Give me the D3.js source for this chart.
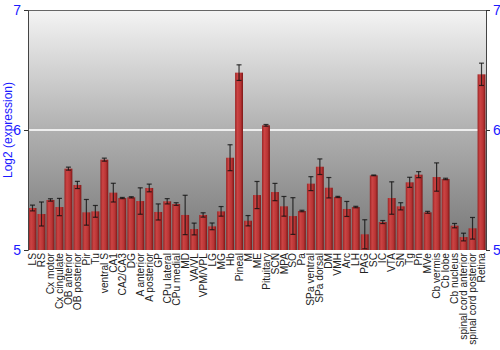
<!DOCTYPE html>
<html>
<head>
<meta charset="utf-8">
<script src="https://cdn.jsdelivr.net/npm/d3@7"></script>
<style>
  body { margin: 0; background: #fff; }
  text { font-family: "Liberation Sans", Arial, sans-serif; }
</style>
</head>
<body>
<div id="chart"></div>
<script>
// tissue names along the x axis
const regions = ["LS", "RS", "Cx motor", "Cx cingulate", "OB anterior", "OB posterior", "Pir", "Tu",
  "ventral S", "CA1", "CA2/CA3", "DG", "A anterior", "A posterior", "GP", "CPu lateral", "CPu medial",
  "MD", "VA/VL", "VPM/VPL", "LG", "MG", "Hb", "Pineal", "M", "ME", "Pituitary", "SCN", "MPA", "SO",
  "Pa", "SPa ventral", "SPa dorsal", "DM", "VMH", "Arc", "LH", "PAG", "SC", "IC", "VTA", "SN", "Tg",
  "Pn", "MVe", "Cb vermis", "Cb lobe", "Cb nucleus", "spinal cord anterior", "spinal cord posterior", "Retina"];

// log2 expression per region
const expression = [5.35, 5.30, 5.417, 5.358, 5.678, 5.542, 5.314, 5.322,
  5.753, 5.478, 5.433, 5.439, 5.408, 5.517, 5.317, 5.406, 5.383,
  5.292, 5.175, 5.292, 5.197, 5.322, 5.769, 6.478, 5.244, 5.458, 6.039, 5.483, 5.364, 5.283,
  5.325, 5.553, 5.694, 5.519, 5.442, 5.342, 5.358, 5.131, 5.622, 5.233, 5.433, 5.364, 5.564,
  5.628, 5.314, 5.608, 5.592, 5.203, 5.108, 5.181, 6.464];

// half-width of error bars
const errors = [0.024, 0.1, 0.01, 0.072, 0.0125, 0.03, 0.107, 0.049,
  0.0125, 0.078, 0.005, 0.005, 0.11, 0.032, 0.067, 0.022, 0.011,
  0.164, 0.049, 0.018, 0.028, 0.04, 0.108, 0.065, 0.043, 0.113, 0.007, 0.072, 0.082, 0.153,
  0.006, 0.058, 0.065, 0.085, 0.005, 0.0625, 0.006, 0.121, 0.003, 0.0125, 0.135, 0.03, 0.042,
  0.025, 0.008, 0.118, 0.006, 0.018, 0.032, 0.09, 0.093];

const yTicks = [5, 6, 7];

const data = regions.map((r, i) => ({ name: r, value: expression[i], err: errors[i] }));

const W = 500, H = 350;
const margin = { top: 10, right: 14, bottom: 100, left: 28 };
const width = W - margin.left - margin.right;
const height = H - margin.top - margin.bottom;

const svg = d3.select("#chart").append("svg")
  .attr("width", W)
  .attr("height", H);

const defs = svg.append("defs");

// background gradient, light at top, dark at bottom
const bg = defs.append("linearGradient")
  .attr("id", "bg").attr("x1", 0).attr("y1", 0).attr("x2", 0).attr("y2", 1);
bg.append("stop").attr("offset", "0%").attr("stop-color", "#f4f4f4");
bg.append("stop").attr("offset", "50%").attr("stop-color", "#b0b0b0");
bg.append("stop").attr("offset", "100%").attr("stop-color", "#767676");

// bar shading left-to-right
const barGrad = defs.append("linearGradient")
  .attr("id", "bar").attr("x1", 0).attr("y1", 0).attr("x2", 1).attr("y2", 0);
barGrad.append("stop").attr("offset", "0%").attr("stop-color", "#9a2424");
barGrad.append("stop").attr("offset", "30%").attr("stop-color", "#cc4444");
barGrad.append("stop").attr("offset", "70%").attr("stop-color", "#b83434");
barGrad.append("stop").attr("offset", "100%").attr("stop-color", "#7e1616");

const g = svg.append("g")
  .attr("transform", `translate(${margin.left},${margin.top})`);

const x = d3.scaleBand()
  .domain(regions)
  .range([0, width])
  .paddingInner(0.12)
  .paddingOuter(0.06);

const y = d3.scaleLinear()
  .domain([5, 7])
  .range([height, 0]);

g.append("rect")
  .attr("width", width)
  .attr("height", height)
  .attr("fill", "url(#bg)");

// gridline at 6
g.append("line")
  .attr("x1", 0).attr("x2", width)
  .attr("y1", y(6)).attr("y2", y(6))
  .attr("stroke", "#eeeeee")
  .attr("stroke-width", 2);

// top border
g.append("line")
  .attr("x1", 0).attr("x2", width)
  .attr("y1", 0.5).attr("y2", 0.5)
  .attr("stroke", "#666");

g.selectAll(".bar")
  .data(data)
  .enter()
  .append("rect")
  .attr("class", "bar")
  .attr("x", d => x(d.name))
  .attr("y", d => y(d.value))
  .attr("width", x.bandwidth())
  .attr("height", d => height - y(d.value))
  .attr("fill", "url(#bar)");

// error bars
const eb = g.selectAll(".err")
  .data(data)
  .enter()
  .append("g")
  .attr("class", "err")
  .attr("stroke", "#111")
  .attr("stroke-opacity", 0.8)
  .attr("stroke-width", 1.2);

eb.append("line")
  .attr("x1", d => x(d.name) + x.bandwidth() / 2)
  .attr("x2", d => x(d.name) + x.bandwidth() / 2)
  .attr("y1", d => y(d.value + d.err))
  .attr("y2", d => y(d.value - d.err));

eb.append("line")
  .attr("x1", d => x(d.name) + x.bandwidth() / 2 - 2.5)
  .attr("x2", d => x(d.name) + x.bandwidth() / 2 + 2.5)
  .attr("y1", d => y(d.value + d.err))
  .attr("y2", d => y(d.value + d.err));

eb.append("line")
  .attr("x1", d => x(d.name) + x.bandwidth() / 2 - 2.5)
  .attr("x2", d => x(d.name) + x.bandwidth() / 2 + 2.5)
  .attr("y1", d => y(d.value - d.err))
  .attr("y2", d => y(d.value - d.err));

// axes
const yLeft = g.append("g")
  .call(d3.axisLeft(y).tickValues(yTicks).tickFormat(d3.format("d")).tickSize(4));
const yRight = g.append("g")
  .attr("transform", `translate(${width},0)`)
  .call(d3.axisRight(y).tickValues(yTicks).tickFormat(d3.format("d")).tickSize(4));

[yLeft, yRight].forEach(a => {
  a.select(".domain").attr("stroke", "#444");
  a.selectAll(".tick line").attr("stroke", "#333");
  a.selectAll(".tick text")
    .attr("fill", "#1a1aff")
    .style("font-size", "14px");
});

const xAxis = g.append("g")
  .attr("transform", `translate(0,${height})`)
  .call(d3.axisBottom(x).tickSize(0));
xAxis.select(".domain").remove();
xAxis.selectAll(".tick text")
  .attr("transform", "rotate(-90)")
  .attr("text-anchor", "end")
  .attr("x", -3)
  .attr("y", 0)
  .attr("dy", "0.35em")
  .attr("fill", "#222")
  .style("font-size", "10.2px");

svg.append("text")
  .attr("transform", `translate(12,${margin.top + height / 2}) rotate(-90)`)
  .attr("text-anchor", "middle")
  .attr("fill", "#1a1aff")
  .style("font-size", "12px")
  .text("Log2 (expression)");
</script>
</body>
</html>
